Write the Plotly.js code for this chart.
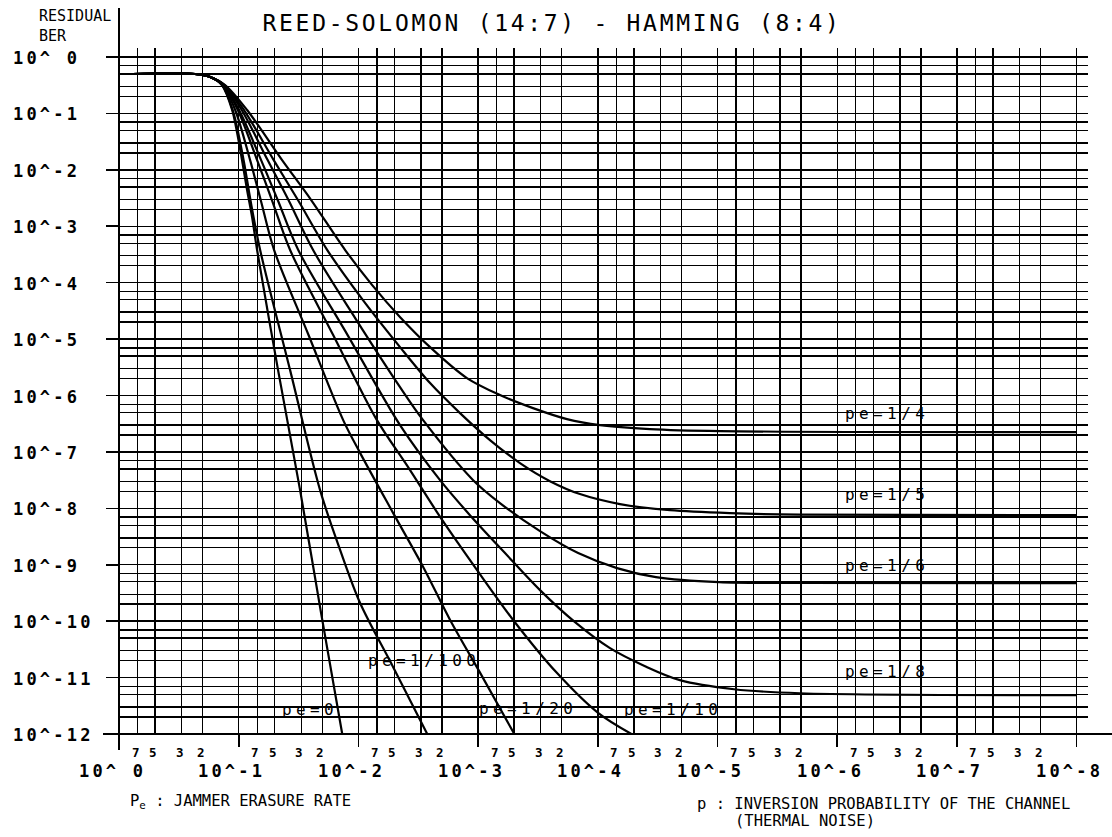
<!DOCTYPE html>
<html>
<head>
<meta charset="utf-8">
<script src="https://cdn.plot.ly/plotly-3.0.1.min.js"></script>
<style>
  html, body { margin: 0; padding: 0; background: #fff; }
  #chart { width: 1112px; height: 837px; }
</style>
</head>
<body>
<div id="chart"></div>
<script>
// ---------------- DATA ----------------
// x: p = inversion probability of the channel, y: residual BER
const pe0_p    = [0.764, 0.232, 0.173, 0.138, 0.1135, 0.103, 0.0938, 0.0851, 0.0773, 0.0702, 0.0469, 0.0307, 0.0205, 0.01365];
const pe0_ber  = [0.5, 0.5, 0.442, 0.319, 0.115, 0.0449, 0.0149, 0.00439, 0.00146, 3.79e-4, 2.82e-6, 2.10e-8, 1.39e-10, 1e-12];

const pe100_p   = [0.764, 0.232, 0.173, 0.138, 0.1122, 0.0910, 0.0798, 0.0662, 0.0372, 0.0209, 0.0142, 0.00966, 0.00512, 0.00266];
const pe100_ber = [0.5, 0.5, 0.442, 0.319, 0.115, 0.0149, 0.00292, 3.79e-4, 2.82e-6, 2.10e-8, 1.82e-9, 2.08e-10, 1.53e-11, 1e-12];

const pe20_p   = [0.764, 0.232, 0.173, 0.136, 0.107, 0.0803, 0.0655, 0.0506, 0.0263, 0.0134, 0.00966, 0.00512, 0.00287, 0.00171, 9.59e-4, 4.98e-4];
const pe20_ber = [0.5, 0.5, 0.442, 0.319, 0.115, 0.0149, 0.00292, 3.79e-4, 1.23e-5, 3.66e-7, 9.52e-8, 8.22e-9, 9.06e-10, 1.04e-10, 1.20e-11, 1e-12];

const pe10_p   = [0.764, 0.232, 0.173, 0.135, 0.1018, 0.0702, 0.0528, 0.0372, 0.01625, 0.0070, 0.00394, 0.00207, 0.00102, 5.08e-4, 2.19e-4, 9.89e-5, 5.24e-5];
const pe10_ber = [0.5, 0.5, 0.442, 0.319, 0.115, 0.0149, 0.00292, 3.79e-4, 1.18e-5, 3.66e-7, 5.83e-8, 6.98e-9, 8.02e-10, 1.04e-10, 1.20e-11, 2.34e-12, 1e-12];

const pe8_p   = [0.764, 0.232, 0.173, 0.134, 0.0993, 0.0650, 0.0472, 0.0318, 0.01217, 0.00449, 0.00208, 0.00117, 5.96e-4, 3.04e-4, 1.55e-4, 7.91e-5, 4.03e-5, 2.06e-5, 7.28e-6, 2.05e-6, 1e-8];
const pe8_ber = [0.5, 0.5, 0.442, 0.319, 0.115, 0.0149, 0.00292, 3.79e-4, 1.13e-5, 2.99e-7, 3.16e-8, 7.57e-9, 1.61e-9, 3.55e-10, 9.59e-11, 3.32e-11, 1.59e-11, 9.0e-12, 6.22e-12, 5.28e-12, 4.88e-12];

const pe6_p   = [0.764, 0.232, 0.173, 0.1324, 0.0944, 0.0573, 0.0384, 0.0239, 0.01064, 0.00449, 0.00288, 0.00110, 6.57e-4, 3.04e-4, 1.46e-4, 6.91e-5, 3.27e-5, 9.7e-6, 2.05e-6, 1e-8];
const pe6_ber = [0.5, 0.5, 0.442, 0.319, 0.115, 0.0149, 0.00292, 3.79e-4, 2.36e-5, 1.41e-6, 3.66e-7, 3.16e-8, 1.24e-8, 3.94e-9, 1.61e-9, 8.71e-10, 6.03e-10, 4.91e-10, 4.75e-10, 4.72e-10];

const pe5_p   = [0.764, 0.232, 0.173, 0.1315, 0.0903, 0.0510, 0.0320, 0.0182, 0.00916, 0.00449, 0.00252, 0.001416, 7.96e-4, 4.47e-4, 2.51e-4, 1.41e-4, 6.53e-5, 2.49e-5, 7.87e-6, 2.05e-6, 1e-8];
const pe5_ber = [0.5, 0.5, 0.442, 0.319, 0.115, 0.0149, 0.00292, 3.79e-4, 4.91e-5, 7.21e-6, 1.66e-6, 4.88e-7, 1.62e-7, 6.33e-8, 3.03e-8, 1.79e-8, 1.19e-8, 9.29e-9, 8.22e-9, 7.73e-9, 7.57e-9];

const pe4_p   = [0.764, 0.232, 0.173, 0.130, 0.0851, 0.0434, 0.0248, 0.0129, 0.00767, 0.00448, 0.00252, 0.00124, 6.57e-4, 3.48e-4, 1.81e-4, 9.59e-5, 3.67e-5, 9.53e-6, 1e-8];
const pe4_ber = [0.5, 0.5, 0.442, 0.319, 0.115, 0.0149, 0.00292, 3.79e-4, 9.06e-5, 2.45e-5, 7.21e-6, 2.04e-6, 1.02e-6, 5.98e-7, 3.82e-7, 2.99e-7, 2.54e-7, 2.34e-7, 2.24e-7];

const curveNames = ['pe=0', 'pe=1/100', 'pe=1/20', 'pe=1/10', 'pe=1/8', 'pe=1/6', 'pe=1/5', 'pe=1/4'];

// axis decades and tick labels
const xDecades = [0, -1, -2, -3, -4, -5, -6, -7, -8];
const xDecadeLabels = ['10^ 0', '10^-1', '10^-2', '10^-3', '10^-4', '10^-5', '10^-6', '10^-7', '10^-8'];
const yDecades = [0, -1, -2, -3, -4, -5, -6, -7, -8, -9, -10, -11, -12];
const yDecadeLabels = ['10^ 0', '10^-1', '10^-2', '10^-3', '10^-4', '10^-5', '10^-6', '10^-7', '10^-8', '10^-9', '10^-10', '10^-11', '10^-12'];
const minorMantissas = [7, 5, 3, 2];
const minorLabels = ['7', '5', '3', '2'];

const titleText = 'REED-SOLOMON (14:7) - HAMMING (8:4)';
const yTitleLine1 = 'RESIDUAL';
const yTitleLine2 = 'BER';
const xNote1 = 'P<sub>e</sub> : JAMMER ERASURE RATE';
const xNote2a = 'p : INVERSION PROBABILITY OF THE CHANNEL';
const xNote2b = '(THERMAL NOISE)';

// ---------------- LAYOUT / STYLE ----------------
const MONO = 'DejaVu Sans Mono, Liberation Mono, monospace';
const BLACK = '#000';

const series = [
  [pe0_p, pe0_ber], [pe100_p, pe100_ber], [pe20_p, pe20_ber], [pe10_p, pe10_ber],
  [pe8_p, pe8_ber], [pe6_p, pe6_ber], [pe5_p, pe5_ber], [pe4_p, pe4_ber]
];

const traces = series.map((s, i) => ({
  type: 'scatter', mode: 'lines', name: curveNames[i],
  x: s[0], y: s[1],
  line: { color: BLACK, width: 2.2, shape: 'spline', smoothing: 0.9 },
  hoverinfo: 'skip', showlegend: false
}));

// curve label anchor positions (log10 units, layout only)
const labelPos = [
  [-1.596, -11.56], [-2.548, -10.69], [-3.417, -11.54], [-4.628, -11.56],
  [-6.416, -10.90], [-6.416, -9.01], [-6.416, -7.75], [-6.416, -6.31]
];

const pow10 = e => Math.pow(10, e);
const xMajorVals = xDecades.map(pow10);
const yMajorVals = yDecades.map(pow10);
const xMinorVals = [];
xDecades.slice(1).forEach(e => minorMantissas.forEach(m => xMinorVals.push(m * pow10(e))));
const yMinorVals = [];
yDecades.slice(1).forEach(e => minorMantissas.forEach(m => yMinorVals.push(m * pow10(e))));

const spaced = (t, ls) => '<span style="letter-spacing:' + ls + 'px">' + t + '</span>';

const annotations = [];
// x decade labels
xDecades.forEach((e, i) => annotations.push({
  xref: 'x', yref: 'paper', x: e, y: 0, xshift: -7, yshift: -37,
  xanchor: 'center', yanchor: 'middle', showarrow: false,
  text: spaced(xDecadeLabels[i], 3.2),
  font: { family: MONO, size: 17, color: BLACK, weight: 'bold' }
}));
// x minor labels 7 5 3 2
xDecades.slice(1).forEach(e => minorMantissas.forEach((m, j) => annotations.push({
  xref: 'x', yref: 'paper', x: e + Math.log10(m), y: 0, xshift: -2, yshift: -18,
  xanchor: 'center', yanchor: 'middle', showarrow: false,
  text: minorLabels[j],
  font: { family: MONO, size: 12.5, color: BLACK, weight: 'bold' }
})));
// y decade labels (left aligned)
yDecades.forEach((e, i) => annotations.push({
  xref: 'paper', yref: 'y', x: 0, y: e, xshift: -108, yshift: -1,
  xanchor: 'left', yanchor: 'middle', showarrow: false,
  text: spaced(yDecadeLabels[i], 3.2),
  font: { family: MONO, size: 17, color: BLACK, weight: 'bold' }
}));
// curve labels
curveNames.forEach((n, i) => annotations.push({
  xref: 'x', yref: 'y', x: labelPos[i][0], y: labelPos[i][1],
  xanchor: 'center', yanchor: 'middle', showarrow: false,
  text: spaced(n, 4.4),
  font: { family: MONO, size: 16, color: BLACK }
}));
// y title (two lines)
annotations.push({
  xref: 'paper', yref: 'paper', x: 0, y: 1, xshift: -82, yshift: 32,
  xanchor: 'left', yanchor: 'middle', showarrow: false,
  text: yTitleLine1, font: { family: MONO, size: 15, color: BLACK }
});
annotations.push({
  xref: 'paper', yref: 'paper', x: 0, y: 1, xshift: -82, yshift: 12,
  xanchor: 'left', yanchor: 'middle', showarrow: false,
  text: yTitleLine2, font: { family: MONO, size: 15, color: BLACK }
});
// bottom notes
annotations.push({
  xref: 'paper', yref: 'paper', x: 0, y: 0, xshift: 9, yshift: -68,
  xanchor: 'left', yanchor: 'middle', showarrow: false,
  text: xNote1, font: { family: MONO, size: 15.5, color: BLACK }
});
annotations.push({
  xref: 'paper', yref: 'paper', x: 0, y: 0, xshift: 576, yshift: -70,
  xanchor: 'left', yanchor: 'middle', showarrow: false,
  text: xNote2a, font: { family: MONO, size: 15.5, color: BLACK }
});
annotations.push({
  xref: 'paper', yref: 'paper', x: 0, y: 0, xshift: 614, yshift: -87,
  xanchor: 'left', yanchor: 'middle', showarrow: false,
  text: xNote2b, font: { family: MONO, size: 15.5, color: BLACK }
});

const W = 1112, H = 837;
const M = { l: 119, r: 24, t: 48, b: 103 };
const PW = W - M.l - M.r, PH = H - M.t - M.b;

const axisCommon = {
  type: 'log', showgrid: true, gridcolor: BLACK, gridwidth: 1.4,
  tickmode: 'array', ticks: 'outside', ticklen: 12, tickwidth: 1.6, tickcolor: BLACK,
  showticklabels: false, showline: false, zeroline: false, fixedrange: true
};

const layout = {
  width: W, height: H, margin: M,
  paper_bgcolor: '#fff', plot_bgcolor: '#fff',
  showlegend: false,
  title: {
    text: spaced(titleText, 2.7),
    font: { family: MONO, size: 23, color: BLACK },
    xref: 'container', yref: 'container', x: 0.4965, y: 0.972,
    xanchor: 'center', yanchor: 'middle'
  },
  xaxis: Object.assign({}, axisCommon, {
    range: [0, -8.095], tickvals: xMajorVals,
    minor: { tickmode: 'array', tickvals: xMinorVals, showgrid: true, gridcolor: BLACK, gridwidth: 1.4, ticks: '' }
  }),
  yaxis: Object.assign({}, axisCommon, {
    range: [-12, 0.16], tickvals: yMajorVals,
    minor: { tickmode: 'array', tickvals: yMinorVals, showgrid: true, gridcolor: BLACK, gridwidth: 1.4, ticks: '' }
  }),
  shapes: [
    { type: 'line', xref: 'paper', yref: 'paper', x0: 0, x1: 0, y0: -16 / PH, y1: (H - M.b - 8) / PH,
      line: { color: BLACK, width: 2 }, layer: 'above' },
    { type: 'line', xref: 'paper', yref: 'paper', x0: -16 / PW, x1: (W - M.l) / PW, y0: 0, y1: 0,
      line: { color: BLACK, width: 2 }, layer: 'above' }
  ],
  annotations: annotations
};

Plotly.newPlot('chart', traces, layout, { displayModeBar: false, staticPlot: true });
</script>
</body>
</html>
